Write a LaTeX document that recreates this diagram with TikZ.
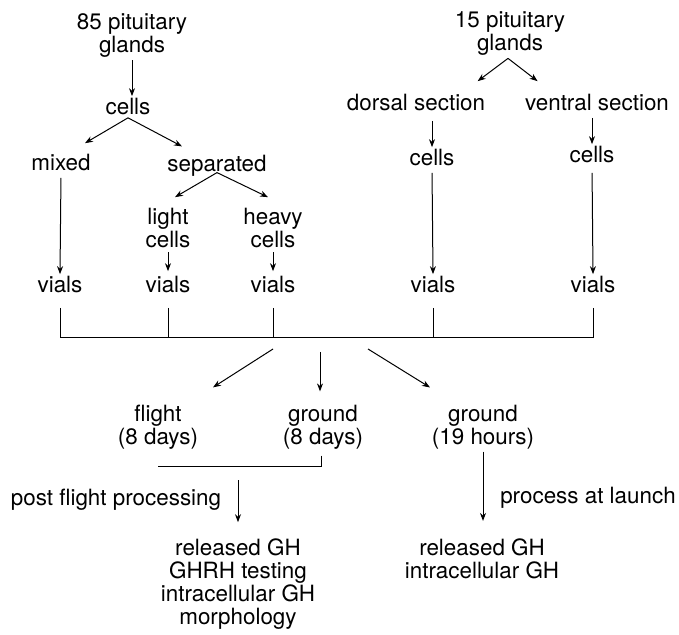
\documentclass[tikz,border=0pt]{standalone}
\usepackage{fontspec}
\setmainfont{TeX Gyre Heros}
\usetikzlibrary{arrows.meta}

\tikzset{
  txt/.style={align=center, inner sep=1pt, font=\fontsize{11.2}{11.5}\selectfont},
  arr/.style={-{Stealth[length=4pt,width=3pt]}},
}

\begin{document}
\begin{tikzpicture}[x=0.5pt,y=-0.5pt,line width=0.5pt]
        \useasboundingbox (0,0) rectangle (679,635);
        % 85 glands
        \node[txt] (glA) at (132,36) {85 pituitary\\glands};
        \node[txt] (cellsA) at (128,107) {cells};
        \node[txt] (mixed) at (61,163) {mixed};
        \node[txt] (sep) at (217,165.5) {separated};
        \node[txt] (light) at (168,228) {light\\cells};
        \node[txt] (heavy) at (273,228) {heavy\\cells};
        % 15 glands
        \node[txt] (glB) at (510,34) {15 pituitary\\glands};
        \node[txt] (dorsal) at (416,103) {dorsal section};
        \node[txt] (ventral) at (597,103) {ventral section};
        \node[txt] (cellsB) at (432,158) {cells};
        \node[txt] (cellsC) at (592,155) {cells};
        % vials
        \node[txt] (vialsA) at (60,285) {vials};
        \node[txt] (vialsB) at (168,285) {vials};
        \node[txt] (vialsC) at (273,285) {vials};
        \node[txt] (vialsD) at (433,285) {vials};
        \node[txt] (vialsE) at (593,285) {vials};
        \coordinate (bar) at (320,338);
        % groups
        \node[txt] (flight) at (158,427) {flight\\(8 days)};
        \node[txt] (gr8) at (323,427) {ground\\(8 days)};
        \node[txt] (gr19) at (483,427) {ground\\(19 hours)};
        \coordinate (merge) at (238,466);
        \node[txt] (post) at (116,499.5) {post flight processing};
        \node[txt] (launch) at (588,497.5) {process at launch};
        \node[txt] (resA) at (238,584) {released GH\\GHRH testing\\intracellular GH\\morphology};
        \node[txt] (resB) at (482,558.5) {released GH\\intracellular GH};

        \draw[arr] (glA.south) -- (glA.south |- cellsA.north);
        \draw[arr] (cellsA.south) -- ([xshift=12pt,yshift=4.5pt]mixed.north);
        \draw[arr] (cellsA.south) -- ([xshift=-17.5pt,yshift=3pt]sep.north);
        \draw[arr] ([yshift=3pt]sep.south) -- ([xshift=3.5pt,yshift=4.25pt]light.north);
        \draw[arr] ([yshift=3pt]sep.south) -- ([xshift=-2.5pt,yshift=4.25pt]heavy.north);
        \draw[arr,shorten <=2pt] (mixed.south) -- (vialsA.north);
        \draw[arr,shorten <=1pt,shorten >=1.5pt] (light.south) -- (vialsB.north);
        \draw[arr,shorten <=1pt,shorten >=1.5pt] (heavy.south) -- (vialsC.north);

        \draw[arr] ([xshift=-1pt]glB.south) -- ([xshift=-5pt,yshift=5.5pt]dorsal.north east);
        \draw[arr] ([xshift=-1pt]glB.south) -- ([xshift=7.5pt,yshift=5.5pt]ventral.north west);
        \draw[arr,shorten <=3.5pt] (dorsal.south -| cellsB) -- (cellsB.north);
        \draw[arr,shorten <=2pt] (ventral.south -| cellsC) -- (cellsC.north);
        \draw[arr,shorten <=2pt] (cellsB.south) -- (vialsD.north);
        \draw[arr,shorten <=3.5pt] (cellsC.south) -- (vialsE.north);

        \foreach \v in {vialsA,vialsB,vialsC,vialsD,vialsE}
          \draw[shorten <=6pt] (\v.south) -- (\v |- bar);
        \draw (vialsA |- bar) -- (vialsE |- bar);

        \draw[arr] ([xshift=-23.5pt,yshift=-5.5pt]bar) -- ([xshift=27.5pt,yshift=7.5pt]flight.north);
        \draw[arr] ([yshift=-7pt]bar) -- ([xshift=-1.5pt,yshift=5.5pt]gr8.north);
        \draw[arr] ([xshift=24pt,yshift=-5.5pt]bar) -- ([xshift=-26.5pt,yshift=7.5pt]gr19.north);

        \draw ([xshift=-1pt,yshift=-2pt]gr8.south) |- (flight.south |- merge);
        \draw[arr,shorten <=7pt,shorten >=7pt] (merge) -- (resA.north);
        \draw[arr,shorten >=7.5pt] (gr19.south) -- (gr19.south |- resB.north);
    \end{tikzpicture}
\end{document}
